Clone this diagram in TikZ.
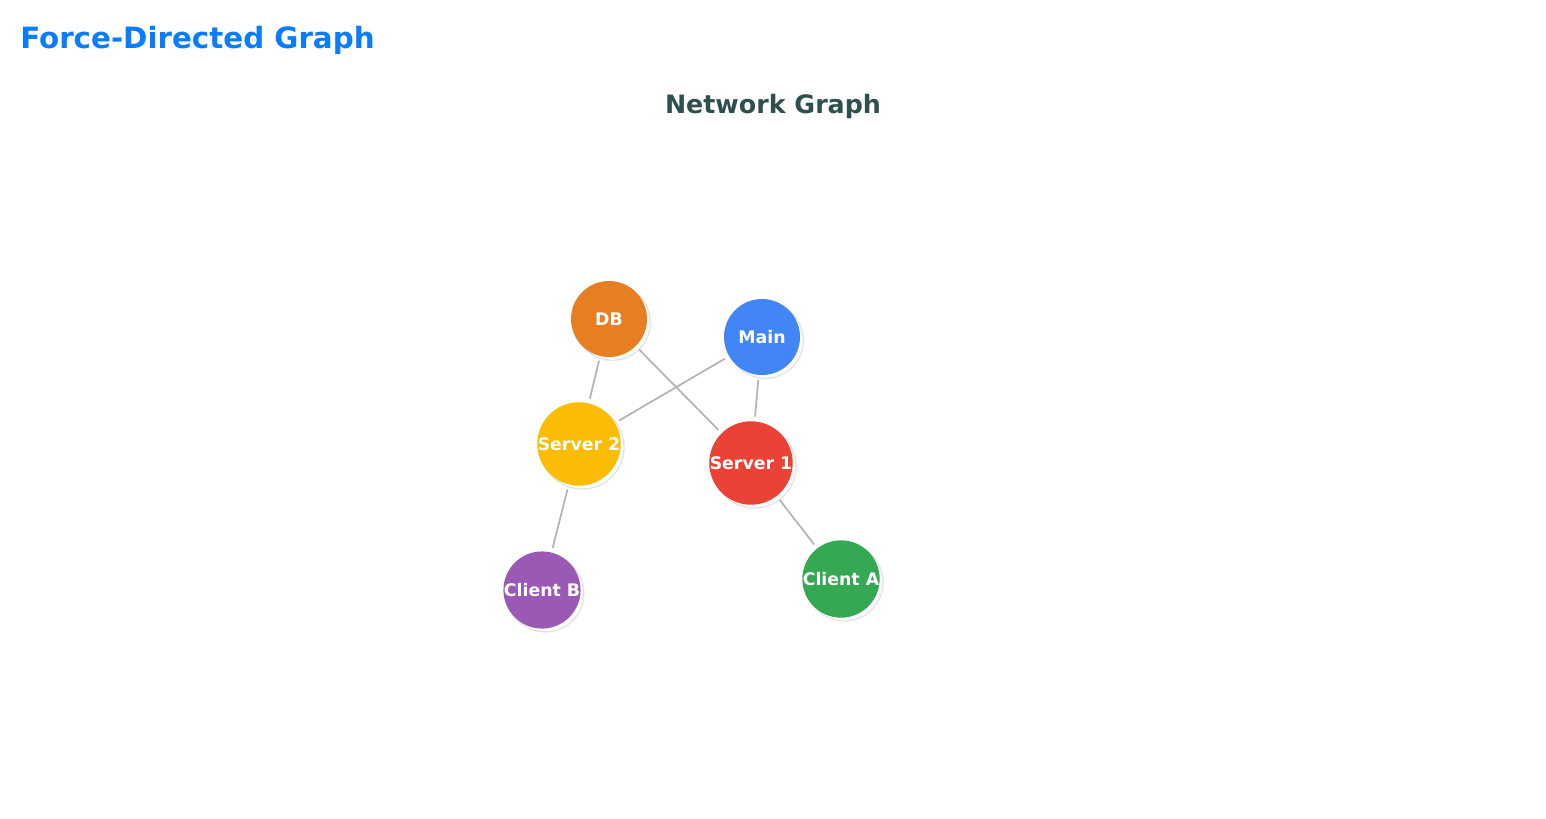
\documentclass[tikz,border=0pt]{standalone}
\usepackage{fontspec}
\setmainfont{DejaVu Sans}
\usetikzlibrary{shadows}
\definecolor{cdb}{HTML}{E67E22}
\definecolor{cmain}{HTML}{4285F4}
\definecolor{csrvtwo}{HTML}{FBBC05}
\definecolor{csrvone}{HTML}{EA4335}
\definecolor{cclb}{HTML}{9B59B6}
\definecolor{ccla}{HTML}{34A853}
\definecolor{edgegray}{HTML}{B3B3B3}
\definecolor{titleblue}{HTML}{0A7CFF}
\definecolor{slate}{HTML}{2F4F4F}
\begin{document}
\begin{tikzpicture}[
        x=0.75pt, y=-0.75pt,
        vert/.style={circle, minimum size=57pt, inner sep=0pt, text=white,
            font=\fontsize{13}{14}\selectfont\bfseries,
            drop shadow={shadow xshift=2.5pt, shadow yshift=-2.5pt, fill=white, draw=black!22, line width=1pt}},
        edge/.style={draw=edgegray, line width=1.3pt, shorten <=3.5pt, shorten >=3.5pt}
    ]
    \useasboundingbox (0,0) rectangle (1546,818);

    % titles
    \node[anchor=west, inner sep=0pt, text=titleblue, font=\fontsize{22}{24}\selectfont\bfseries] (title) at (20,40) {Force-Directed Graph};
    \node[text=slate, font=\fontsize{19}{21}\selectfont\bfseries] (subtitle) at (773,107) {Network Graph};

    % vertices
    \node[vert, fill=cdb]     (db)   at (609,319) {DB};
    \node[vert, fill=cmain]   (main) at (762,337) {Main};
    \node[vert, fill=csrvtwo] (srv2) at (579,444) {Server 2};
    \node[vert, fill=csrvone] (srv1) at (751,463) {Server 1};
    \node[vert, fill=cclb]    (clb)  at (542,590) {Client B};
    \node[vert, fill=ccla]    (cla)  at (841,579) {Client A};

    % links
    \draw[edge] (db) -- (srv2);
    \draw[edge] (db) -- (srv1);
    \draw[edge] (main) -- (srv2);
    \draw[edge] (main) -- (srv1);
    \draw[edge] (srv2) -- (clb);
    \draw[edge] (srv1) -- (cla);
\end{tikzpicture}
\end{document}
